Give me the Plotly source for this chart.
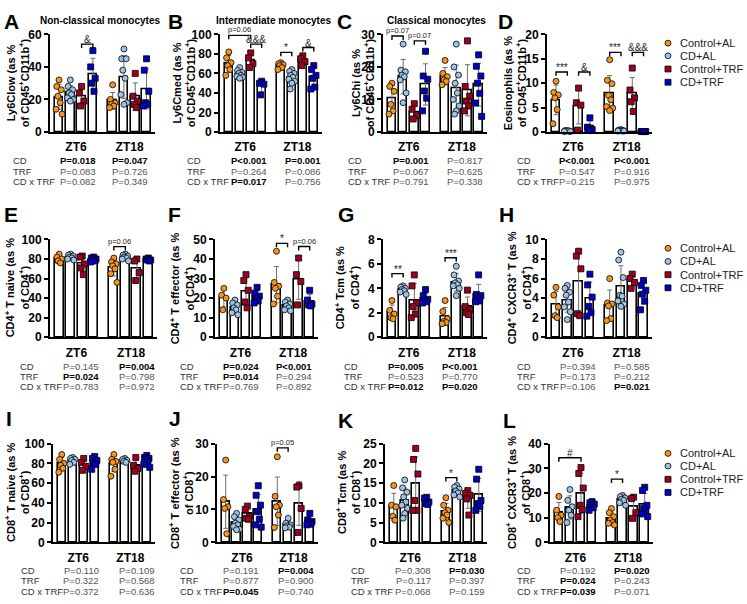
import numpy as np
import plotly.graph_objects as go

W, H = 747, 604
FONT = 'Liberation Sans'

groups = ['Control+AL', 'CD+AL', 'Control+TRF', 'CD+TRF']
colors = ['#F7941D', '#9DC3E6', '#A00020', '#0000C8']
symbols = ['circle', 'circle', 'square', 'square']
zt_labels = ['ZT6', 'ZT18']
effects = ['CD', 'TRF', 'CD x TRF']

# individual values per group, ZT6 then ZT18 (order: Control+AL, CD+AL, Control+TRF, CD+TRF)
a_zt6 = [[32, 28, 26, 22, 18, 14, 11], [32, 28, 26, 24, 23, 21, 20, 19], [28, 24, 19, 16], [50, 40, 33, 30, 25]]
a_zt18 = [[29, 20, 18, 17, 16, 15], [51, 45, 45, 38, 33, 23, 18, 17], [36, 22, 19, 17, 15], [45, 38, 25, 18, 17, 16]]
b_zt6 = [[82, 76, 71, 68, 64, 58], [66, 63, 61, 60, 58, 57, 56, 55], [81, 76, 70, 66], [52, 50, 49, 38]]
b_zt18 = [[71, 70, 69, 68, 66, 64], [64, 62, 60, 58, 56, 54, 52, 50, 44], [78, 75, 72, 68], [68, 64, 58, 55, 46, 44]]
c_zt6 = [[15, 14, 12.5, 8.5, 6.5, 5.5], [27, 19, 18.5, 17.5, 17, 16, 12, 9], [8.7, 7, 5, 4], [24.8, 17.2, 16.2, 12.6, 10.4, 6.5]]
c_zt18 = [[22, 18, 17, 16, 15.5, 14.5], [27, 20, 17.5, 15, 12, 10, 8, 6.5, 5.5], [28, 14, 11, 9.5, 8, 6.5], [23.7, 20.2, 17.2, 15, 11.9, 8.9, 4.8]]
d_zt6 = [[10.4, 8.1, 7.6, 7, 4.6, 1.7], [0.3, 0.2, 0.2, 0.1, 0.1, 0.3, 0.2], [9, 6, 5.5, 0.4], [2.9, 1, 0.5, 0.3]]
d_zt18 = [[14.8, 10.6, 9.9, 7.5, 6.6, 5.2, 4.9, 4.4], [0.5, 0.3, 0.2, 0.2, 0.4, 0.3, 0.2], [13.1, 8.6, 7, 6.2, 4.2], [0.1, 0.1, 0.1, 0.1, 0.1]]
e_zt6 = [[85, 82, 80, 78, 76], [85, 84, 83, 82, 81, 80, 79], [83, 82, 75, 71, 64], [82, 81, 80, 79, 78, 77]]
e_zt18 = [[81, 77, 75, 73, 70, 65, 56], [85, 84, 83, 82, 81, 80, 78], [80, 78, 66, 58], [81, 80, 79, 78, 79]]
f_zt6 = [[25, 21.5, 20, 14], [19, 17.5, 16.5, 15, 14, 12.5, 11.5], [32, 29, 24, 18, 15], [25.5, 22.5, 21, 20, 18.5, 17.5]]
f_zt18 = [[44, 28, 26, 25, 21, 17], [19, 18, 17, 16, 15, 14, 13.5], [40.5, 32, 28.5, 16.5], [24, 19, 17, 16.5, 16]]
g_zt6 = [[3, 2.2, 1.9, 1.6, 1.5], [4.2, 4.1, 4.0, 3.9, 3.8, 3.7, 3.5], [5.1, 4.2, 2.8, 2.5, 1.9, 1.6], [3.9, 3.4, 3.1, 3.0, 2.9, 2.8]]
g_zt18 = [[3, 2.1, 1.5, 1.3, 1.2, 1.1], [5.8, 5.1, 4.6, 4.45, 4.3, 4.2, 4.0, 3.4], [3.85, 2.5, 2.25, 2.0, 1.85], [5.1, 3.5, 3.4, 3.2, 3.0, 2.9]]
h_zt6 = [[5.1, 4.3, 3.1, 2.2, 2.0], [5.3, 5.0, 4.6, 4.3, 3.6, 3.1, 2.6, 1.8], [8.8, 8.3, 7.0, 2.4, 2.2], [6.45, 5.35, 4.1, 3.15, 2.5, 2.15]]
h_zt18 = [[6.0, 3.5, 3.4, 3.2, 1.9, 1.7], [8.7, 7.9, 6.1, 4.3, 4.2, 3.7, 3.4, 3.15], [6.45, 6.0, 5.6, 5.0], [5.8, 5.3, 4.8, 4.4, 3.7, 2.8]]
i_zt6 = [[89, 84, 80, 78, 75, 71], [86, 85, 84, 83, 81, 79], [85, 81, 77, 73], [87, 85, 83, 80, 79, 74]]
i_zt18 = [[89, 84, 82, 81, 74, 67], [85, 84, 83, 82, 81], [86, 78, 75, 72], [88, 86, 85, 84, 82, 79, 76]]
j_zt6 = [[25, 13, 10.8, 10.3, 2.6], [8.8, 7.8, 6.8, 5.8, 5.3, 4.8, 4.0, 3.8], [11, 10, 8, 7.3, 7], [17.2, 14.3, 11.3, 9.3, 7, 5.3, 4.6]]
j_zt18 = [[26, 14, 11.3, 10.8, 8.3, 4.5], [7.3, 5.8, 5.3, 5.0, 4.6, 4.4], [17.2, 16.8, 10.3, 3.0], [8.8, 6.8, 6.3, 6.0, 5.5, 5.3]]
k_zt6 = [[14.4, 9.4, 9.0, 6.6, 5.6], [15.8, 13.8, 12.7, 11.5, 10.2, 9.4, 8.6, 7.3, 6.1], [23.8, 21, 17.3, 10.6, 8.1, 8.1], [11.4, 11.2, 10.2, 9.8, 9.6]]
k_zt18 = [[11.3, 9.4, 8.1, 7.5, 6.9, 6.1, 5.0], [14.4, 14, 13.5, 13, 12.5, 12, 11.5], [13.1, 12.4, 11.9, 11, 6.9], [18.5, 16, 10.6, 9.8, 9.1, 8.1]]
l_zt6 = [[18.6, 13, 11, 10, 8.4], [21.4, 17, 14.4, 13, 11, 8], [30.3, 27.9, 22, 15, 13.3, 10.4], [16.5, 16, 15.5, 15, 14, 13]]
l_zt18 = [[13.7, 12, 10.4, 9, 8, 7.7, 7], [19, 18.5, 18, 17.5, 17, 16, 15], [18.3, 17.7, 12, 9.7], [22.3, 21, 15, 13.7, 12.4, 11.5, 10.4]]

# two-way ANOVA p values, rows CD / TRF / CD x TRF, columns ZT6 / ZT18
a_p = [['P=0.018', 'P=0.047'], ['P=0.083', 'P=0.726'], ['P=0.082', 'P=0.349']]
b_p = [['P<0.001', 'P=0.001'], ['P=0.264', 'P=0.086'], ['P=0.017', 'P=0.756']]
c_p = [['P=0.001', 'P=0.817'], ['P=0.067', 'P=0.625'], ['P=0.791', 'P=0.338']]
d_p = [['P<0.001', 'P<0.001'], ['P=0.547', 'P=0.916'], ['P=0.215', 'P=0.975']]
e_p = [['P=0.145', 'P=0.004'], ['P=0.024', 'P=0.798'], ['P=0.783', 'P=0.972']]
f_p = [['P=0.024', 'P<0.001'], ['P=0.014', 'P=0.294'], ['P=0.769', 'P=0.892']]
g_p = [['P=0.005', 'P<0.001'], ['P=0.523', 'P=0.770'], ['P=0.012', 'P=0.020']]
h_p = [['P=0.394', 'P=0.585'], ['P=0.173', 'P=0.212'], ['P=0.106', 'P=0.021']]
i_p = [['P=0.110', 'P=0.109'], ['P=0.322', 'P=0.568'], ['P=0.372', 'P=0.636']]
j_p = [['P=0.191', 'P=0.004'], ['P=0.877', 'P=0.900'], ['P=0.045', 'P=0.740']]
k_p = [['P=0.308', 'P=0.030'], ['P=0.117', 'P=0.397'], ['P=0.068', 'P=0.159']]
l_p = [['P=0.192', 'P=0.020'], ['P=0.024', 'P=0.243'], ['P=0.039', 'P=0.071']]

# post-hoc brackets: (bar i, bar j, height, label), bars 0-3 ZT6, 4-7 ZT18
a_br = [(2, 3, 54, '&')]
b_br = [(0, 2, 99, 'p=0.06'), (2, 3, 90, '&&&'), (4, 5, 81.5, '*'), (6, 7, 86.5, '&')]
c_br = [(0, 1, 29.5, 'p=0.07'), (2, 3, 28, 'p=0.07')]
d_br = [(0, 1, 12.3, '***'), (2, 3, 12.3, '&'), (4, 5, 16.3, '***'), (6, 7, 16.3, '&&&')]
e_br = [(4, 5, 92.7, 'p=0.06')]
f_br = [(4, 5, 48, '*'), (6, 7, 46.4, 'p=0.06')]
g_br = [(0, 1, 5.2, '**'), (4, 5, 6.5, '***')]
h_br = []
i_br = []
j_br = [(4, 5, 28.7, 'p=0.05')]
k_br = [(4, 5, 16.4, '*')]
l_br = [(0, 2, 34.3, '#'), (4, 5, 25.6, '*')]

sup = '<sup>+</sup>'
panels = [
    dict(letter='A', zt6=a_zt6, zt18=a_zt18, p=a_p, br=a_br, ymax=60, dtick=20,
         ytitle='Ly6Clow (as %<br>of CD45' + sup + 'CD11b' + sup + ')', title='Non-classical monocytes'),
    dict(letter='B', zt6=b_zt6, zt18=b_zt18, p=b_p, br=b_br, ymax=100, dtick=20,
         ytitle='Ly6Cmed (as %<br>of CD45' + sup + 'CD11b' + sup + ')', title='Intermediate monocytes'),
    dict(letter='C', zt6=c_zt6, zt18=c_zt18, p=c_p, br=c_br, ymax=30, dtick=10,
         ytitle='Ly6Chi (as %<br>of CD45' + sup + 'CD11b' + sup + ')', title='Classical monocytes'),
    dict(letter='D', zt6=d_zt6, zt18=d_zt18, p=d_p, br=d_br, ymax=20, dtick=5,
         ytitle='Eosinophils (as %<br>of CD45' + sup + 'CD11b' + sup + ')', title=''),
    dict(letter='E', zt6=e_zt6, zt18=e_zt18, p=e_p, br=e_br, ymax=100, dtick=20,
         ytitle='CD4' + sup + ' T naive (as %<br>of CD4' + sup + ')', title=''),
    dict(letter='F', zt6=f_zt6, zt18=f_zt18, p=f_p, br=f_br, ymax=50, dtick=10,
         ytitle='CD4' + sup + ' T effector (as %<br>of CD4' + sup + ')', title=''),
    dict(letter='G', zt6=g_zt6, zt18=g_zt18, p=g_p, br=g_br, ymax=8, dtick=2,
         ytitle='CD4' + sup + ' Tcm (as %<br>of CD4' + sup + ')', title=''),
    dict(letter='H', zt6=h_zt6, zt18=h_zt18, p=h_p, br=h_br, ymax=10, dtick=2,
         ytitle='CD4' + sup + ' CXCR3' + sup + ' T (as %<br>of CD4' + sup + ')', title=''),
    dict(letter='I', zt6=i_zt6, zt18=i_zt18, p=i_p, br=i_br, ymax=100, dtick=20,
         ytitle='CD8' + sup + ' T naive (as %<br>of CD8' + sup + ')', title=''),
    dict(letter='J', zt6=j_zt6, zt18=j_zt18, p=j_p, br=j_br, ymax=30, dtick=10,
         ytitle='CD8' + sup + ' T effector (as %<br>of CD8' + sup + ')', title=''),
    dict(letter='K', zt6=k_zt6, zt18=k_zt18, p=k_p, br=k_br, ymax=25, dtick=5,
         ytitle='CD8' + sup + ' Tcm (as %<br>of CD8' + sup + ')', title=''),
    dict(letter='L', zt6=l_zt6, zt18=l_zt18, p=l_p, br=l_br, ymax=40, dtick=10,
         ytitle='CD8' + sup + ' CXCR3' + sup + ' T (as %<br>of CD8' + sup + ')', title=''),
]

# page geometry in pixels: axis left/right, plot top/bottom, y-title centre,
# letter position, stats label x, stats right edges (ZT6, ZT18)
geo = [
    (50, 155, 28, 128, 18, (2, 1), 11, (98, 150)),
    (220, 322, 28, 128, 184, (166, 1), 185, (269, 323)),
    (383, 487, 28, 128, 363, (335, 1), 346, (431, 485)),
    (547, 652, 28, 128, 515, (496, 1), 515, (597, 652)),
    (50, 157, 238, 338, 17, (2, 199), 18, (101, 157)),
    (215, 318, 238, 338, 182, (166, 199), 178, (261, 314)),
    (383, 487, 238, 338, 347, (336, 199), 342, (426, 480)),
    (547, 652, 238, 338, 519, (497, 199), 515, (598, 652)),
    (53, 155, 447, 548, 17, (4, 407), 19, (101, 157)),
    (217, 318, 447, 548, 181, (167, 407), 178, (261, 316)),
    (385, 487, 447, 548, 348, (336, 409), 349, (433, 487)),
    (550, 653, 447, 548, 518, (501, 409), 515, (598, 652)),
]
stat_rows = [(157, 168, 179)] * 4 + [(368, 378.5, 389)] * 4 + [(577, 587.5, 598)] * 4
title_x = {0: 100, 1: 273, 2: 437}
legend_rows = [(37, 50, 63.5, 77), (247, 260.5, 274, 287.5), (457, 470, 483.5, 497)]

pos = [0, 1, 2, 3, 4.75, 5.75, 6.75, 7.75]
jit = [0, -0.2, 0.2, -0.1, 0.1, -0.27, 0.27, 0, -0.15, 0.15]

def px(x):
    return x / W

def py(y):
    return 1 - y / H

fig = go.Figure()
annotations = []
shapes = []
layout = {}

for n, p in enumerate(panels):
    sfx = '' if n == 0 else str(n + 1)
    xa, ya = 'x' + sfx, 'y' + sfx
    x0, x1, yt, yb, tcx, (lx, ly), slx, (r6, r18) = geo[n]
    vals = p['zt6'] + p['zt18']
    means = [np.mean(v) for v in vals]
    sds = [np.std(v, ddof=1) for v in vals]

    fig.add_trace(go.Bar(x=pos, y=means, width=0.76, xaxis=xa, yaxis=ya, showlegend=False,
                         marker=dict(color='white', line=dict(color='black', width=1.6)),
                         error_y=dict(type='data', array=sds, color='#6e6e6e', thickness=1, width=2.5)))
    for g in range(8):
        c = g % 4
        v = sorted(vals[g], reverse=True)
        xs = [pos[g] + jit[k % len(jit)] for k in range(len(v))]
        fig.add_trace(go.Scatter(x=xs, y=v, mode='markers', xaxis=xa, yaxis=ya, showlegend=False,
                                 cliponaxis=False, hoverinfo='y',
                                 marker=dict(symbol=symbols[c], size=6, color=colors[c],
                                             line=dict(color='black', width=0.8))))

    ymax = p['ymax']
    d = ymax * 0.04
    for (i, j, yv, lab) in p['br']:
        fig.add_trace(go.Scatter(x=[pos[i], pos[i], pos[j], pos[j]], y=[yv - d, yv, yv, yv - d],
                                 mode='lines', xaxis=xa, yaxis=ya, showlegend=False, cliponaxis=False,
                                 hoverinfo='skip', line=dict(color='black', width=1.4)))
        small = lab.startswith('p=')
        annotations.append(dict(x=(pos[i] + pos[j]) / 2, y=yv, xref=xa, yref=ya, text=lab,
                                showarrow=False, yanchor='bottom', yshift=-1 if small else -3,
                                font=dict(family=FONT, size=7.5 if small else 10, color='#222')))

    layout['xaxis' + sfx] = dict(domain=[px(x0), px(x1)], range=[-0.8, 8.5], anchor=ya,
                                 showline=True, linecolor='black', linewidth=2, showgrid=False,
                                 zeroline=False, tickvals=[1.5, 6.25], ticktext=zt_labels,
                                 ticks='outside', ticklen=3, tickcolor='rgba(0,0,0,0)',
                                 tickfont=dict(family=FONT, size=12, color='black', weight='bold'))
    layout['yaxis' + sfx] = dict(domain=[py(yb), py(yt)], range=[0, ymax], dtick=p['dtick'], anchor=xa,
                                 showline=True, linecolor='black', linewidth=2, showgrid=False,
                                 zeroline=False, ticks='outside', ticklen=4, tickwidth=2,
                                 tickcolor='black',
                                 tickfont=dict(family=FONT, size=12, color='black', weight='bold'))

    # y title
    annotations.append(dict(x=px(tcx), y=py((yt + yb) / 2), xref='paper', yref='paper',
                            text=p['ytitle'], textangle=-90, showarrow=False,
                            xanchor='center', yanchor='middle',
                            font=dict(family=FONT, size=11, color='black', weight='bold')))
    # panel letter
    annotations.append(dict(x=px(lx), y=py(ly), xref='paper', yref='paper', text=p['letter'],
                            showarrow=False, xanchor='left', yanchor='top',
                            font=dict(family=FONT, size=21, color='black', weight='bold')))
    if p['title']:
        annotations.append(dict(x=px(title_x[n]), y=py(14), xref='paper', yref='paper', text=p['title'],
                                showarrow=False, xanchor='center', yanchor='middle',
                                font=dict(family=FONT, size=10, color='black', weight='bold')))
    # ANOVA table
    for r, eff in enumerate(effects):
        yy = py(stat_rows[n][r])
        annotations.append(dict(x=px(slx), y=yy, xref='paper', yref='paper', text=eff,
                                showarrow=False, xanchor='left', yanchor='middle',
                                font=dict(family=FONT, size=9.5, color='#333')))
        for col, rx in enumerate((r6, r18)):
            s = p['p'][r][col]
            sig = float(s[2:]) < 0.05
            annotations.append(dict(x=px(rx), y=yy, xref='paper', yref='paper', text=s,
                                    showarrow=False, xanchor='right', yanchor='middle',
                                    font=dict(family=FONT, size=9.5, color='black' if sig else '#555',
                                              weight='bold' if sig else 'normal')))

# legends next to panels D, H and L
for rows in legend_rows:
    for g, yy in enumerate(rows):
        cx, r = 668, 3
        shape_type = 'circle' if symbols[g] == 'circle' else 'rect'
        shapes.append(dict(type=shape_type, xref='paper', yref='paper',
                           x0=px(cx - r), x1=px(cx + r), y0=py(yy + r), y1=py(yy - r),
                           fillcolor=colors[g], line=dict(color='black', width=0.8)))
        annotations.append(dict(x=px(678), y=py(yy), xref='paper', yref='paper', text=groups[g],
                                showarrow=False, xanchor='left', yanchor='middle',
                                font=dict(family=FONT, size=11, color='#222')))

fig.update_layout(width=W, height=H, margin=dict(l=0, r=0, t=0, b=0),
                  paper_bgcolor='white', plot_bgcolor='white', showlegend=False,
                  annotations=annotations, shapes=shapes, bargap=0, **layout)

# page body has a default 8px margin; remove it so the figure sits at the window origin
fig.write_html("out.html", config={'displayModeBar': False},
               post_script="document.body.style.margin='0px';")
